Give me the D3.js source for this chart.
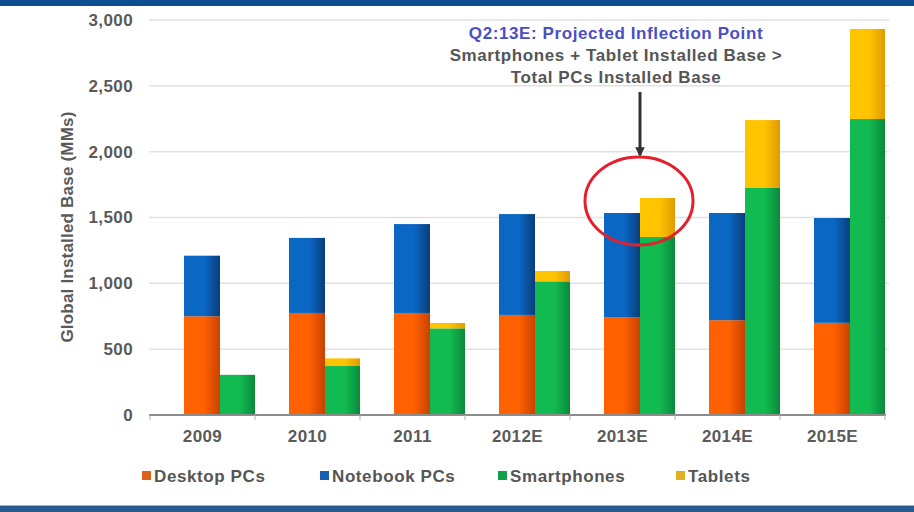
<!DOCTYPE html>
<html>
<head>
<meta charset="utf-8">
<script src="https://cdn.jsdelivr.net/npm/d3@7"></script>
<style>
  html, body { margin: 0; padding: 0; background: #fff; }
  svg { display: block; font-family: "Liberation Sans", Arial, sans-serif; }
</style>
</head>
<body>
<svg id="chart" width="914" height="512"></svg>
<script>
// ---- data ----
const years = ["2009", "2010", "2011", "2012E", "2013E", "2014E", "2015E"];
const seriesNames = ["Desktop PCs", "Notebook PCs", "Smartphones", "Tablets"];
const desktopPCs  = [750, 775, 775, 760, 740, 720, 700];
const notebookPCs = [460, 570, 675, 766, 794, 814, 796];
const smartphones = [305, 372, 658, 1015, 1352, 1728, 2248];
const tablets     = [0, 58, 41, 79, 296, 512, 684];
const yTicks = [0, 500, 1000, 1500, 2000, 2500, 3000];
const yTitle = "Global Installed Base (MMs)";
const noteLines = ["Q2:13E: Projected Inflection Point", "Smartphones + Tablet Installed Base >", "Total PCs Installed Base"];
const noteYear = "2013E";
const noteValue = 1625;

// ---- build ----
const svg = d3.select("#chart");
const W = 914, H = 512;

// frame bands
svg.append("rect").attr("x", 0).attr("y", 0).attr("width", W).attr("height", 6).attr("fill", "#0c4e90");
svg.append("rect").attr("x", 0).attr("y", 505).attr("width", W).attr("height", 1).attr("fill", "#9db6d0");
svg.append("rect").attr("x", 0).attr("y", 506).attr("width", W).attr("height", 6).attr("fill", "#2a5b90");

const x = d3.scaleBand().domain(years).range([150, 885]).paddingInner(0).paddingOuter(0);
const y = d3.scaleLinear().domain([0, 3000]).range([415, 20]);

const colors = {
  "Desktop PCs":  ["#ff6000", "#c84300"],
  "Notebook PCs": ["#0a68c4", "#0b3d7c"],
  "Smartphones":  ["#12bb52", "#0a8a3a"],
  "Tablets":      ["#ffc400", "#e09a00"]
};
const legendColors = {"Desktop PCs": "#e0601a", "Notebook PCs": "#1560b0", "Smartphones": "#13a04c", "Tablets": "#e0b020"};

const defs = svg.append("defs");
seriesNames.forEach((s, i) => {
  const g = defs.append("linearGradient").attr("id", "grad" + i).attr("x1", "0%").attr("x2", "100%").attr("y1", "0%").attr("y2", "0%");
  g.append("stop").attr("offset", "0%").attr("stop-color", colors[s][0]);
  g.append("stop").attr("offset", "55%").attr("stop-color", colors[s][0]);
  g.append("stop").attr("offset", "100%").attr("stop-color", colors[s][1]);
});

// gridlines
svg.append("g").selectAll("line").data(yTicks.filter(d => d > 0)).join("line")
  .attr("x1", 149).attr("x2", 889)
  .attr("y1", d => y(d)).attr("y2", d => y(d))
  .attr("stroke", "#e2e2e2").attr("stroke-width", 1.5);

// y axis labels
const yAxis = d3.axisLeft(y).tickValues(yTicks).tickFormat(d3.format(",")).tickSize(0).tickPadding(0);
const yg = svg.append("g").attr("transform", "translate(133,0)").call(yAxis);
yg.select(".domain").remove();
yg.selectAll("text").attr("font-size", 17).attr("font-weight", "bold").attr("fill", "#5a5a5a")
  .attr("letter-spacing", "0.4px")
  .attr("font-family", "'Liberation Sans', Arial, sans-serif");

// y title
svg.append("text")
  .attr("transform", "translate(73,227) rotate(-90)")
  .attr("text-anchor", "middle")
  .attr("font-size", 17).attr("font-weight", "bold").attr("fill", "#5a5a5a")
  .attr("letter-spacing", "0.2px")
  .text(yTitle);

// stacks
const rows = years.map((yr, i) => ({year: yr, "Desktop PCs": desktopPCs[i], "Notebook PCs": notebookPCs[i], "Smartphones": smartphones[i], "Tablets": tablets[i]}));
const pcStack = d3.stack().keys(["Desktop PCs", "Notebook PCs"])(rows);
const mobStack = d3.stack().keys(["Smartphones", "Tablets"])(rows);

const barW1 = 36, barW2 = 35;
function drawStack(stack, offset, w) {
  stack.forEach(layer => {
    const gi = seriesNames.indexOf(layer.key);
    svg.append("g").selectAll("rect").data(layer.filter(d => d[1] - d[0] > 0)).join("rect")
      .attr("x", d => x(d.data.year) + offset)
      .attr("width", w)
      .attr("y", d => y(d[1]))
      .attr("height", d => y(d[0]) - y(d[1]))
      .attr("fill", `url(#grad${gi})`);
  });
}
drawStack(pcStack, 34, barW1);
drawStack(mobStack, 70, barW2);

// x axis
const xg = svg.append("g").attr("transform", "translate(0,415)");
xg.append("line").attr("x1", 149).attr("x2", 886).attr("y1", 0).attr("y2", 0).attr("stroke", "#8c8c8c").attr("stroke-width", 2);
xg.selectAll("line.tick").data(years.concat(["end"])).join("line").attr("class", "tick")
  .attr("x1", (d, i) => i < years.length ? x(d) : x.range()[1])
  .attr("x2", (d, i) => i < years.length ? x(d) : x.range()[1])
  .attr("y1", 0).attr("y2", 5).attr("stroke", "#b0b0b0").attr("stroke-width", 1);
xg.selectAll("text").data(years).join("text")
  .attr("x", d => x(d) + x.bandwidth() / 2)
  .attr("y", 27)
  .attr("text-anchor", "middle")
  .attr("font-size", 17).attr("font-weight", "bold").attr("fill", "#5a5a5a")
  .attr("letter-spacing", "0.4px")
  .text(d => d);

// annotation
const ax = x(noteYear) + 70;
const noteColors = ["#4a4fc6", "#555555", "#555555"];
svg.append("g").selectAll("text").data(noteLines).join("text")
  .attr("x", ax - 24)
  .attr("y", (d, i) => 39 + i * 22)
  .attr("text-anchor", "middle")
  .attr("font-size", 17).attr("font-weight", "bold")
  .attr("letter-spacing", "0.6px")
  .attr("fill", (d, i) => noteColors[i])
  .text(d => d);

defs.append("marker").attr("id", "arrow").attr("viewBox", "0 0 10 10").attr("refX", 8).attr("refY", 5)
  .attr("markerWidth", 3.2).attr("markerHeight", 3.2).attr("orient", "auto")
  .append("path").attr("d", "M0,0 L10,5 L0,10 z").attr("fill", "#333");
svg.append("line").attr("x1", ax).attr("x2", ax).attr("y1", 92).attr("y2", 155)
  .attr("stroke", "#333").attr("stroke-width", 3).attr("marker-end", "url(#arrow)");

svg.append("ellipse").attr("cx", ax - 1).attr("cy", y(noteValue)).attr("rx", 54).attr("ry", 44)
  .attr("fill", "none").attr("stroke", "#e3202b").attr("stroke-width", 3);

// legend
const lx = d3.scalePoint().domain(seriesNames).range([142, 676]);
const lg = svg.append("g").selectAll("g").data(seriesNames).join("g")
  .attr("transform", d => `translate(${lx(d)},476)`);
lg.append("rect").attr("x", 0).attr("y", -5).attr("width", 9).attr("height", 9).attr("fill", d => legendColors[d]);
lg.append("text").attr("x", 12).attr("y", 6)
  .attr("font-size", 17).attr("font-weight", "bold").attr("fill", "#555")
  .attr("letter-spacing", "0.6px")
  .text(d => d);
</script>
</body>
</html>
